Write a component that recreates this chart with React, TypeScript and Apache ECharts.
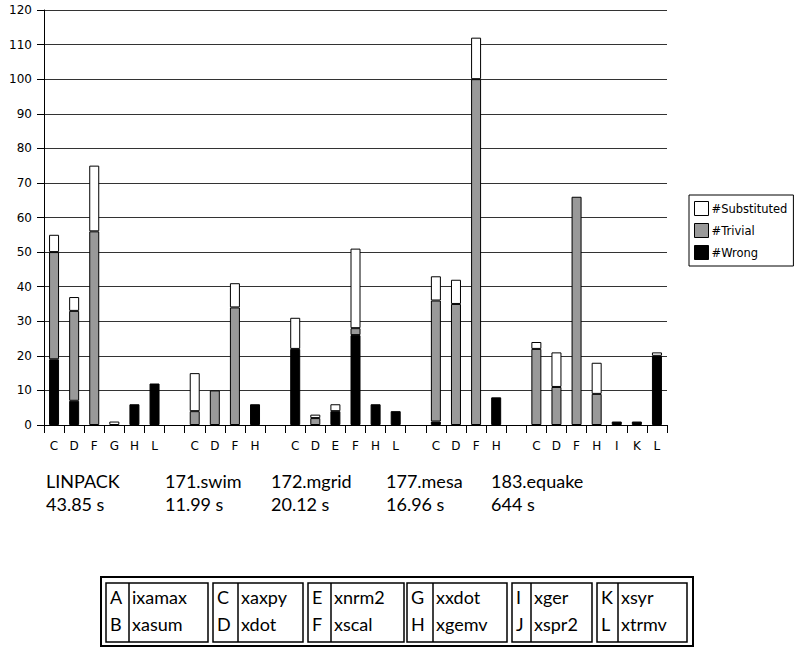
import React, { useEffect, useRef } from "react";
import * as echarts from "echarts";

const categories = ["C","D","F","G","H","L","","C","D","F","H","","C","D","E","F","H","L","","C","D","F","H","","C","D","F","H","I","K","L"];
const wrong =       [19, 7,  0, 0, 6, 12, 0, 0,  0,  0, 6, 0, 22, 0, 4, 26, 6, 4, 0, 1,  0,  0,  8, 0,  0,  0,  0, 0, 1, 1, 20];
const trivial =     [31, 26, 56, 0, 0, 0, 0, 4, 10, 34, 0, 0, 0,  2, 0, 2,  0, 0, 0, 35, 35, 100, 0, 0, 22, 11, 66, 9, 0, 0, 0];
const substituted = [5,  4,  19, 1, 0, 0, 0, 11, 0,  7, 0, 0, 9,  1, 2, 23, 0, 0, 0, 7,  7,  12, 0, 0,  2,  10, 0, 9, 0, 0, 1];

const yTicks = { min: 0, max: 120, interval: 10 };

const groupNames = ["LINPACK", "171.swim", "172.mgrid", "177.mesa", "183.equake"];
const groupTimes = ["43.85 s", "11.99 s", "20.12 s", "16.96 s", "644 s"];

const letters = ["A","B","C","D","E","F","G","H","I","J","K","L"];
const routines = ["ixamax","xasum","xaxpy","xdot","xnrm2","xscal","xxdot","xgemv","xger","xspr2","xsyr","xtrmv"];

// layout (not data)
const groupLabelX = [46, 165, 271, 386, 491];
const tblLeft = [106, 213, 308, 407, 512, 597];
const tblSep = [129, 238, 331, 433, 531, 618];
const tblRight = [208, 303, 404, 507, 592, 687];

const nz = (a: number[]) => a.map((v) => (v === 0 ? "-" : v));

export default function App() {
  const ref = useRef<HTMLDivElement>(null);
  useEffect(() => {
    if (!ref.current) return;
    const chart = echarts.init(ref.current, undefined, { renderer: "svg" });
    const labelFont = "18px Lato";
    const graphics: any[] = [];
    groupNames.forEach((n, i) => {
      graphics.push({ type: "text", style: { text: n, x: groupLabelX[i], y: 481, font: labelFont, fill: "#000", textVerticalAlign: "middle" } });
      graphics.push({ type: "text", style: { text: groupTimes[i], x: groupLabelX[i], y: 504, font: labelFont, fill: "#000", textVerticalAlign: "middle" } });
    });
    graphics.push({ type: "rect", shape: { x: 101, y: 577, width: 592, height: 69 }, style: { fill: "none", stroke: "#000", lineWidth: 2 } });
    const tFont = "18px Lato";
    for (let g = 0; g < 6; g++) {
      graphics.push({ type: "rect", shape: { x: tblLeft[g], y: 583, width: tblRight[g] - tblLeft[g], height: 59 }, style: { fill: "none", stroke: "#000", lineWidth: 1.5 } });
      graphics.push({ type: "line", shape: { x1: tblSep[g], y1: 583, x2: tblSep[g], y2: 642 }, style: { stroke: "#000", lineWidth: 1.5 } });
      for (let r = 0; r < 2; r++) {
        const idx = g * 2 + r;
        const y = 597 + r * 27;
        graphics.push({ type: "text", style: { text: letters[idx], x: tblLeft[g] + 4, y, font: tFont, fill: "#000", textVerticalAlign: "middle" } });
        graphics.push({ type: "text", style: { text: routines[idx], x: tblSep[g] + 3, y, font: tFont, fill: "#000", textVerticalAlign: "middle" } });
      }
    }

    const barStyle = (c: string) => ({ color: c, borderColor: "#000", borderWidth: 1 });
    chart.setOption({
      animation: false,
      textStyle: { fontFamily: "DejaVu Sans" },
      grid: { left: 44, right: 127, top: 10, bottom: 224, containLabel: false },
      legend: {
        orient: "vertical",
        left: 689,
        top: 195,
        data: ["#Substituted", "#Trivial", "#Wrong"],
        itemWidth: 14,
        itemHeight: 14,
        itemGap: 7,
        padding: [6, 6, 6, 5],
        borderColor: "#000",
        borderWidth: 1,
        selectedMode: false,
        icon: "rect",
        textStyle: { fontSize: 11.5, color: "#000", fontFamily: "DejaVu Sans", padding: [0, 0, 0, -2] },
        itemStyle: { borderColor: "#000", borderWidth: 1 },
      },
      xAxis: {
        type: "category",
        data: categories,
        axisLine: { lineStyle: { color: "#000", width: 1 } },
        axisTick: { show: true, interval: 0, length: 8, lineStyle: { color: "#000" } },
        axisLabel: { interval: 0, color: "#000", fontSize: 12, margin: 15 },
      },
      yAxis: {
        type: "value",
        min: yTicks.min,
        max: yTicks.max,
        interval: yTicks.interval,
        axisLine: { show: true, lineStyle: { color: "#000" } },
        axisTick: { show: true, length: 7, lineStyle: { color: "#000" } },
        axisLabel: { color: "#000", fontSize: 12, margin: 12 },
        splitLine: { lineStyle: { color: "#333", width: 1 } },
      },
      series: [
        { name: "#Wrong", type: "bar", stack: "a", barWidth: 10, data: nz(wrong), itemStyle: barStyle("#000000") },
        { name: "#Trivial", type: "bar", stack: "a", barWidth: 10, data: nz(trivial), itemStyle: barStyle("#999999") },
        { name: "#Substituted", type: "bar", stack: "a", barWidth: 10, data: nz(substituted), itemStyle: barStyle("#ffffff") },
      ],
      graphic: graphics,
    });
    return () => chart.dispose();
  }, []);
  return <div ref={ref} style={{ position: "absolute", left: 0, top: 0, width: 794, height: 649 }} />;
}
